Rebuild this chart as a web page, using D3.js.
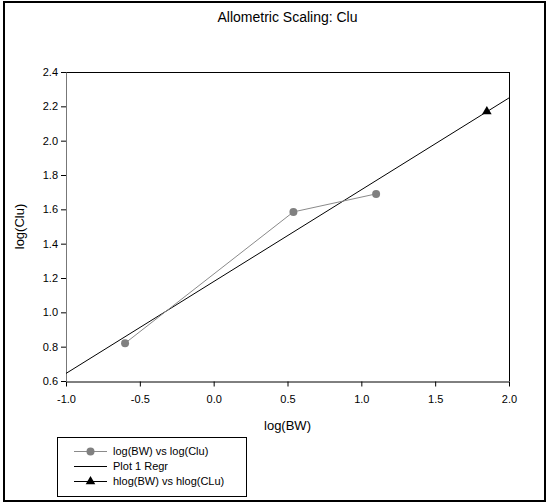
<!DOCTYPE html>
<html><head><meta charset="utf-8">
<script src="https://cdn.jsdelivr.net/npm/d3@7"></script>
<style>body{margin:0;background:#fff}svg{display:block}text{font-family:"Liberation Sans",Arial,sans-serif;}</style>
</head><body>
<svg id="c" width="548" height="504"></svg>
<script>
const bwLog = [-0.6, 0.54, 1.1];
const cluLog = [0.82, 1.585, 1.69];
const hBwLog = [1.85];
const hCluLog = [2.17];
const regrX = [-1.0, 2.0];
const regrY = [0.644, 2.249];
const xTicks = [-1.0, -0.5, 0.0, 0.5, 1.0, 1.5, 2.0];
const yTicks = [0.6, 0.8, 1.0, 1.2, 1.4, 1.6, 1.8, 2.0, 2.2, 2.4];
const legendLabels = ["log(BW) vs log(Clu)", "Plot 1 Regr", "hlog(BW) vs hlog(CLu)"];

const svg = d3.select("#c");
const L = 66, R = 509, T = 72, B = 381;
const x = d3.scaleLinear().domain([-1, 2]).range([L, R]);
const y = d3.scaleLinear().domain([0.6, 2.4]).range([B, T]);

// outer frame
svg.append("rect").attr("x", 4).attr("y", 2).attr("width", 541).attr("height", 499)
  .attr("fill", "#fff").attr("stroke", "#000").attr("stroke-width", 2);

svg.append("text").attr("x", (L + R) / 2).attr("y", 22).attr("text-anchor", "middle")
  .attr("font-size", 14).text("Allometric Scaling: Clu");

// plot box
svg.append("line").attr("x1", L).attr("x2", R).attr("y1", T + 0.5).attr("y2", T + 0.5).attr("stroke", "#000");
svg.append("line").attr("x1", R + 0.5).attr("x2", R + 0.5).attr("y1", T).attr("y2", B).attr("stroke", "#000");

const fmt = v => d3.format(".1f")(v).replace("\u2212", "-");
const xAxis = svg.append("g").attr("transform", `translate(0,${B + 0.5})`)
  .call(d3.axisBottom(x).tickValues(xTicks).tickFormat(fmt).tickSize(5).tickSizeOuter(0));
const yAxis = svg.append("g").attr("transform", `translate(${L},0)`)
  .call(d3.axisLeft(y).tickValues(yTicks).tickFormat(fmt).tickSize(5).tickSizeOuter(0));
[xAxis, yAxis].forEach(g => {
  g.selectAll("text").attr("font-size", 11).attr("font-family", "Liberation Sans, Arial, sans-serif").attr("fill", "#000");
  g.selectAll("line").attr("stroke", "#000");
  g.select(".domain").attr("stroke", "#000");
});
xAxis.selectAll("text").attr("dy", "0.71em").attr("y", 14);
yAxis.selectAll("text").attr("x", -8);
yAxis.select(".domain").attr("stroke", "#777");

svg.append("text").attr("x", (L + R) / 2).attr("y", 430).attr("text-anchor", "middle")
  .attr("font-size", 13).text("log(BW)");
svg.append("text").attr("transform", `translate(24,${(T + B) / 2}) rotate(-90)`)
  .attr("text-anchor", "middle").attr("font-size", 13).text("log(Clu)");

svg.append("clipPath").attr("id", "pc").append("rect")
  .attr("x", L).attr("y", T).attr("width", R - L).attr("height", B - T);
const plot = svg.append("g").attr("clip-path", "url(#pc)");

// regression line
plot.append("path").datum(regrX.map((v, i) => [v, regrY[i]]))
  .attr("d", d3.line().x(d => x(d[0])).y(d => y(d[1])))
  .attr("fill", "none").attr("stroke", "#000").attr("stroke-width", 1);

// data series
const pts = bwLog.map((v, i) => [v, cluLog[i]]);
plot.append("path").datum(pts).attr("d", d3.line().x(d => x(d[0])).y(d => y(d[1])))
  .attr("fill", "none").attr("stroke", "#8a8a8a").attr("stroke-width", 1);
plot.selectAll("circle.p").data(pts).join("circle").attr("class", "p")
  .attr("cx", d => x(d[0])).attr("cy", d => y(d[1])).attr("r", 4).attr("fill", "#808080");

const tri = d3.symbol().type(d3.symbolTriangle).size(40);
plot.selectAll("path.t").data(hBwLog.map((v, i) => [v, hCluLog[i]])).join("path").attr("class", "t")
  .attr("transform", d => `translate(${x(d[0])},${y(d[1])})`).attr("d", tri).attr("fill", "#000");

// legend
const lg = svg.append("g");
lg.append("rect").attr("x", 57.5).attr("y", 437.5).attr("width", 189).attr("height", 59)
  .attr("fill", "#fff").attr("stroke", "#000");
const ly = [451, 466, 481];
legendLabels.forEach((t, i) => {
  lg.append("line").attr("x1", 74).attr("x2", 107).attr("y1", ly[i] + 0.5).attr("y2", ly[i] + 0.5)
    .attr("stroke", i === 0 ? "#8a8a8a" : "#000");
  lg.append("text").attr("x", 113).attr("y", ly[i] + 4).attr("font-size", 11).text(t);
});
lg.append("circle").attr("cx", 90.5).attr("cy", ly[0] + 0.5).attr("r", 4).attr("fill", "#808080");
lg.append("path").attr("transform", `translate(90.5,${ly[2] + 0.5})`).attr("d", tri).attr("fill", "#000");
</script>
</body></html>
